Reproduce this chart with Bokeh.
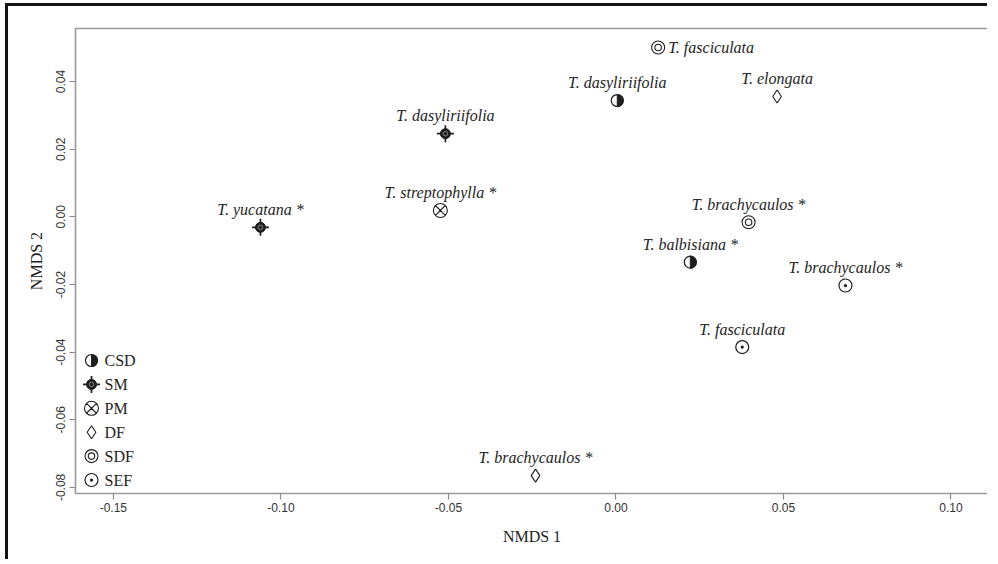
import math
from bokeh.plotting import figure
from bokeh.models import ColumnDataSource, FixedTicker, PrintfTickFormatter, Range1d
from bokeh.core.properties import value
from bokeh.embed import file_html
from bokeh.resources import INLINE

# ---- data ----
species = ["T. fasciculata", "T. dasyliriifolia", "T. elongata", "T. dasyliriifolia",
           "T. yucatana *", "T. streptophylla *", "T. brachycaulos *", "T. balbisiana *",
           "T. brachycaulos *", "T. fasciculata", "T. brachycaulos *"]
habitat = ["SDF", "CSD", "DF", "SM", "SM", "PM", "SDF", "CSD", "SEF", "SEF", "DF"]
nmds1 = [0.0126, 0.0004, 0.0481, -0.0509, -0.1061, -0.0524, 0.0396, 0.0222, 0.0685, 0.0377, -0.0240]
nmds2 = [0.0501, 0.0344, 0.0356, 0.0246, -0.0031, 0.0019, -0.0016, -0.0134, -0.0203, -0.0385, -0.0765]
legend_groups = ["CSD", "SM", "PM", "DF", "SDF", "SEF"]
x_ticks = [-0.15, -0.10, -0.05, 0.00, 0.05, 0.10]
y_ticks = [-0.08, -0.06, -0.04, -0.02, 0.00, 0.02, 0.04]
label_side = ["right"] + ["above"] * 10

# ---- layout ----
X0, X1 = -0.1613, 0.1112
Y0, Y1 = -0.0818, 0.0557
W, H = 982, 556
ML, MR, MT, MB = 67, 2, 22, 69
FW, FH = W - ML - MR, H - MT - MB

INK = "#1e1e1e"
SERIF = "Liberation Serif"
SANS = "Liberation Sans"

p = figure(width=W, height=H, x_range=Range1d(X0, X1), y_range=Range1d(Y0, Y1),
           output_backend="svg", toolbar_location=None,
           min_border_left=ML, min_border_right=MR, min_border_top=MT, min_border_bottom=MB,
           background_fill_color="white", border_fill_color="white")
p.styles = {"border-top": "3px solid #141414", "border-left": "3px solid #141414",
            "margin-top": "3px", "margin-left": "5px"}
p.grid.visible = False
p.outline_line_color = "#9a9a9a"
p.outline_line_width = 1.6

p.xaxis.ticker = FixedTicker(ticks=x_ticks)
p.yaxis.ticker = FixedTicker(ticks=y_ticks)
for ax in (p.xaxis, p.yaxis):
    ax.formatter = PrintfTickFormatter(format="%.2f")
    ax.axis_line_color = None
    ax.major_tick_line_color = "#8a8a8a"
    ax.major_tick_line_width = 1.2
    ax.major_tick_out = 6
    ax.major_tick_in = 0
    ax.minor_tick_line_color = None
    ax.major_label_text_font = SANS
    ax.major_label_text_font_size = "12px"
    ax.major_label_text_color = "#333333"
    ax.axis_label_text_font = SERIF
    ax.axis_label_text_font_size = "16px"
    ax.axis_label_text_font_style = "normal"
    ax.axis_label_text_color = INK
p.xaxis.axis_label = "NMDS 1"
p.yaxis.axis_label = "NMDS 2"
p.yaxis.major_label_orientation = "vertical"
p.xaxis.major_label_standoff = 3
p.yaxis.major_label_standoff = 4
p.xaxis.axis_label_standoff = 13
p.yaxis.axis_label_standoff = 9


def draw_group(xs, ys, g):
    src = ColumnDataSource(dict(x=xs, y=ys))
    if g == "CSD":
        p.scatter("x", "y", source=src, marker="circle", size=12, fill_color="white",
                  line_color=INK, line_width=1.2)
        p.wedge("x", "y", source=src, radius=6, radius_units="screen",
                start_angle=-math.pi / 2, end_angle=math.pi / 2,
                fill_color=INK, line_color=INK, line_width=1)
    elif g == "SM":
        p.scatter("x", "y", source=src, marker="cross", size=17, line_color=INK, line_width=1.7)
        p.scatter("x", "y", source=src, marker="circle", size=10, fill_color=INK, line_color=INK)
        p.scatter("x", "y", source=src, marker="circle", size=4.5, fill_color=INK,
                  line_color="#8a8a8a", line_width=1.0)
    elif g == "PM":
        p.scatter("x", "y", source=src, marker="circle_x", size=14, fill_color="white",
                  line_color=INK, line_width=1.1)
    elif g == "DF":
        p.scatter("x", "y", source=src, marker="diamond", size=13, fill_color="white",
                  line_color=INK, line_width=1.1)
    elif g == "SDF":
        p.scatter("x", "y", source=src, marker="circle", size=13, fill_color="white",
                  line_color=INK, line_width=1.1)
        p.scatter("x", "y", source=src, marker="circle", size=6.5, fill_color=None,
                  line_color=INK, line_width=1.1)
    elif g == "SEF":
        p.scatter("x", "y", source=src, marker="circle_dot", size=13, fill_color="white",
                  line_color=INK, line_width=1.2)


# data points
for g in legend_groups:
    idx = [i for i, h in enumerate(habitat) if h == g]
    if idx:
        draw_group([nmds1[i] for i in idx], [nmds2[i] for i in idx], g)

# species labels
above = [i for i, s in enumerate(label_side) if s == "above"]
right = [i for i, s in enumerate(label_side) if s == "right"]
src_above = ColumnDataSource(dict(x=[nmds1[i] for i in above], y=[nmds2[i] for i in above],
                                  t=[species[i] for i in above]))
src_right = ColumnDataSource(dict(x=[nmds1[i] for i in right], y=[nmds2[i] for i in right],
                                  t=[species[i] for i in right]))
p.text("x", "y", text="t", source=src_above, y_offset=-18, text_align="center",
       text_baseline="middle", text_font=value(SERIF), text_font_style="italic",
       text_font_size="16px", text_color=INK)
p.text("x", "y", text="t", source=src_right, x_offset=10, text_align="left",
       text_baseline="middle", text_font=value(SERIF), text_font_style="italic",
       text_font_size="16px", text_color=INK)

# legend (drawn with the same symbol builders, bottom-left of the frame)
sx = (X1 - X0) / FW
sy = (Y1 - Y0) / FH
leg_x = X0 + 16 * sx
leg_y = [Y0 + (133 - 23.9 * k) * sy for k in range(len(legend_groups))]
for k, g in enumerate(legend_groups):
    draw_group([leg_x], [leg_y[k]], g)
p.text(x=[leg_x] * len(legend_groups), y=leg_y, text=legend_groups, x_offset=13,
       text_align="left", text_baseline="middle", text_font=value(SERIF),
       text_font_size="16px", text_color=INK)

open("out.html", "w").write(file_html(p, INLINE))
